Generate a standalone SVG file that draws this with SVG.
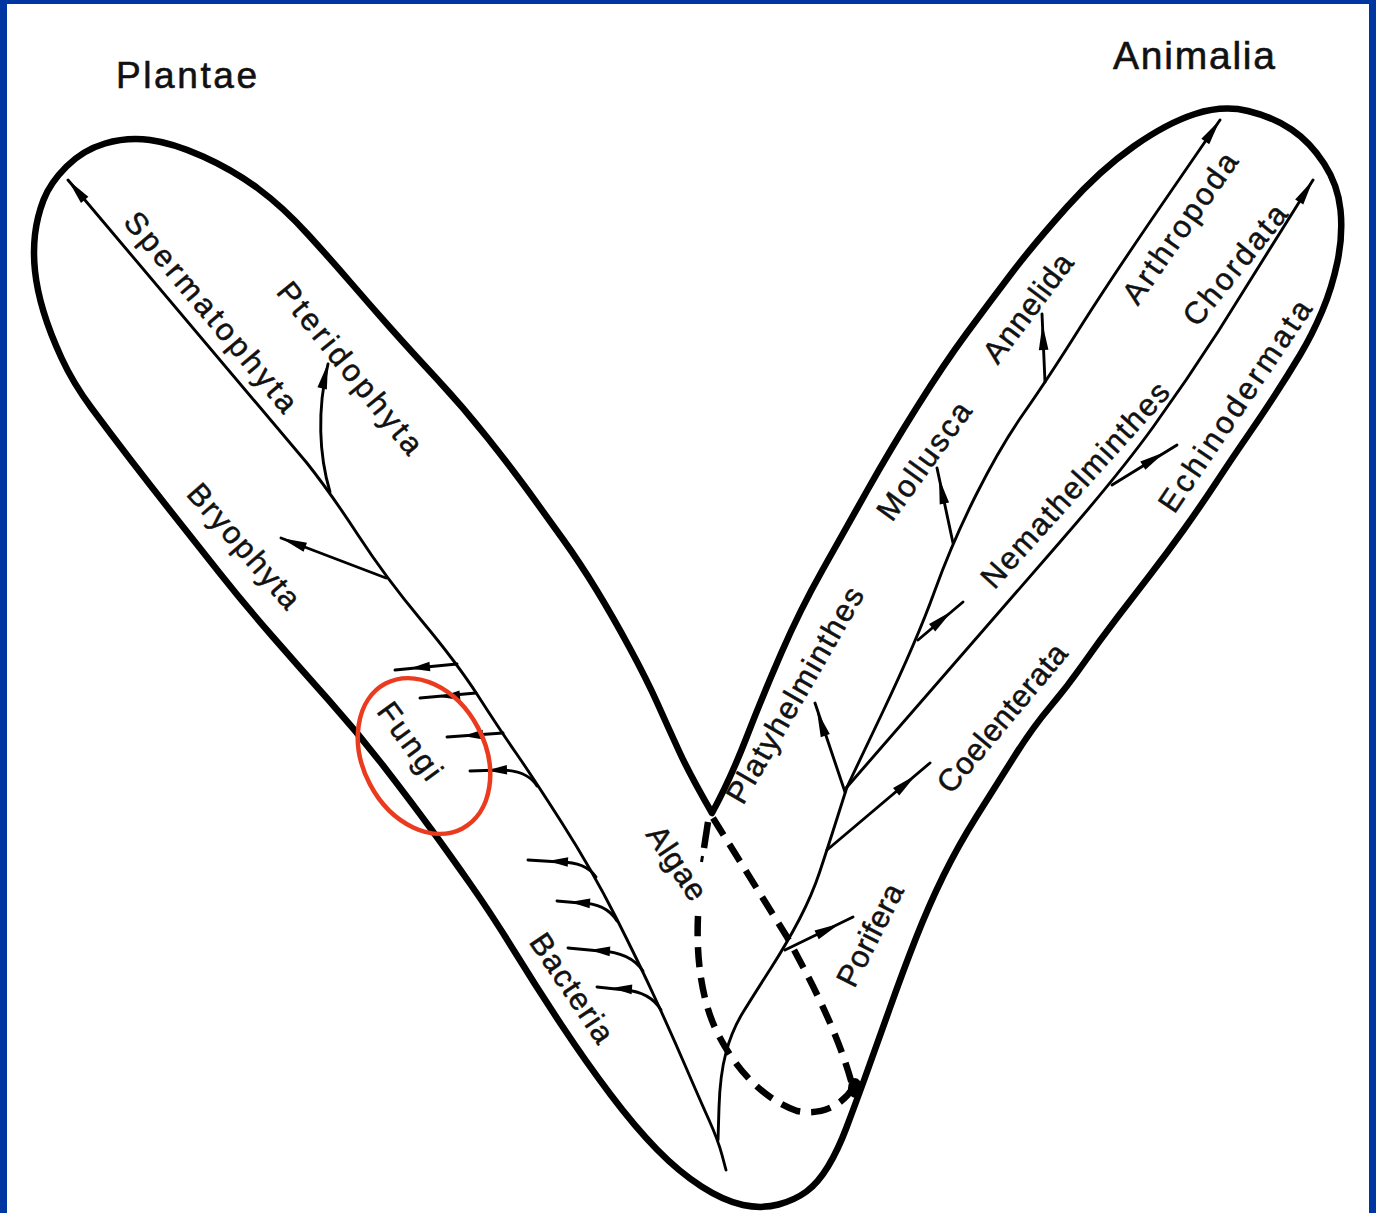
<svg xmlns="http://www.w3.org/2000/svg" width="1376" height="1213" viewBox="0 0 1376 1213">
<defs>
<style>
.ol{fill:none;stroke:#000;stroke-width:6.5;stroke-linejoin:round;stroke-linecap:round}
.br{fill:none;stroke:#000;stroke-width:2.9;stroke-linecap:round;stroke-linejoin:round}
.da{fill:none;stroke:#000;stroke-width:6.5;stroke-dasharray:20 11}
.lb{font-family:"Liberation Sans",Arial,sans-serif;font-size:31px;fill:#111;stroke:#111;stroke-width:0.5;text-anchor:middle;dominant-baseline:central}
.tt{font-family:"Liberation Sans",Arial,sans-serif;fill:#111;stroke:#111;stroke-width:0.6}
</style>
<path id="ah" d="M0,0 L-26,-4.8 L-26,4.8 Z" fill="#000"/>
<path id="as" d="M0,0 L-20,-4.8 L-20,4.8 Z" fill="#000"/>
</defs>
<rect width="1376" height="1213" fill="#0036a1"/>
<rect x="7" y="4" width="1362" height="1209" fill="#fff"/>

<g id="outline">
<path class="ol" d="M712,813 Q690,775 679,751 Q668,727 657.5,703.5 Q647,680 630,648.5 Q613,617 596.5,590 Q580,563 563.5,540 Q547,517 530,493.5 Q513,470 488,438.5 Q463,407 436.5,378.5 Q410,350 390,327.5 Q370,305 351.5,283.5 Q333,262 308,234.5 Q283,207 258,188.5 Q233,170 203,156.5 Q173,143 150,140 Q127,137 105,143.5 Q83,150 66.5,166.5 Q50,183 43.5,200 Q37,217 35,234.5 Q33,252 35,271 Q37,290 43.5,311.5 Q50,333 61.5,358 Q73,383 91.5,408 Q110,433 130,459 Q150,485 172.5,513.5 Q195,542 220,573.5 Q245,605 272.5,636.5 Q300,668 329,700.5 Q358,733 385,768 Q412,803 431,829 Q450,855 471,885 Q492,915 514.5,951.5 Q537,988 561.5,1025 Q586,1062 610.5,1094.5 Q635,1127 657,1149.5 Q679,1172 701.5,1186.5 Q724,1201 743,1205 Q762,1209 778.5,1204.5 Q795,1200 806.5,1191.5 Q818,1183 828,1166.5 Q838,1150 846.5,1127.5 Q855,1105 865,1077.5 Q875,1050 889,1010.5 Q903,971 916,938 Q929,905 943.5,875.5 Q958,846 976.5,816.5 Q995,787 1014,757 Q1033,727 1050,707 Q1067,687 1083.5,663.5 Q1100,640 1116.5,618.5 Q1133,597 1150,575 Q1167,553 1183.5,530 Q1200,507 1216.5,482 Q1233,457 1247.5,436 Q1262,415 1275,395 Q1288,375 1300,355 Q1312,335 1322,311.5 Q1332,288 1337.5,261.5 Q1343,235 1340.5,210 Q1338,185 1324,163.5 Q1310,142 1291.5,129.5 Q1273,117 1248,111 Q1223,105 1195,114 Q1167,123 1133.5,146.5 Q1100,170 1066.5,207.5 Q1033,245 1011,274 Q989,303 966.5,333.5 Q944,364 917,407 Q890,450 867.5,490 Q845,530 822.5,570 Q800,610 781.5,652.5 Q763,695 746.5,737.5 Q730,780 712,813 Z"/>
</g>

<g id="connectors">
<!-- plant trunk -->
<path class="br" d="M68,180 L306.5,462.5 Q330,492 358,535 Q386,578 421.5,620.5 Q457,663 478.5,696.5 Q500,730 516,753 Q532,776 562,823 Q592,870 615.5,916.5 Q639,963 655.5,999 Q672,1035 686,1067.5 Q700,1100 709,1120 Q718,1140 722,1155 L726,1170"/>
<use href="#ah" transform="translate(68,180) rotate(-130)"/>
<!-- Pteridophyta -->
<path class="br" d="M330,492 C319,455 317,410 328,364"/>
<use href="#ah" transform="translate(328,363) rotate(-77)"/>
<!-- Bryophyta -->
<path class="br" d="M386,578 L281,538"/>
<use href="#ah" transform="translate(281,538) rotate(201)"/>
<!-- Fungi -->
<path class="br" d="M457,664 L395,670"/>
<use href="#as" transform="translate(410,668.5) rotate(174.5)"/>
<path class="br" d="M476,693 L420,698"/>
<use href="#as" transform="translate(440,697) rotate(175)"/>
<path class="br" d="M503,733 L447,737"/>
<use href="#as" transform="translate(463,736) rotate(176)"/>
<path class="br" d="M537,786 Q527,770 500,770 L470,771"/>
<use href="#as" transform="translate(487,770.5) rotate(178)"/>
<!-- Bacteria -->
<path class="br" d="M596,877 Q586,862 560,862 L528,860"/>
<use href="#as" transform="translate(548,861) rotate(183)"/>
<path class="br" d="M617,921 Q606,903 580,903 L557,901"/>
<use href="#as" transform="translate(570,902) rotate(184)"/>
<path class="br" d="M643,971 Q630,952 600,951 L568,948"/>
<use href="#as" transform="translate(590,950) rotate(184)"/>
<path class="br" d="M661,1010 Q650,992 625,990 L597,987"/>
<use href="#as" transform="translate(612,988) rotate(184)"/>

<!-- animal trunk -->
<path class="br" d="M718,1140 L719,1107.5 Q720,1075 726,1052.5 Q732,1030 743.5,1011.5 Q755,993 771,968 Q787,943 799.5,919 Q812,895 819.5,872.5 Q827,850 837,818.5 L847,787"/>
<!-- line 1 (Arthropoda) -->
<path class="br" d="M847,787 L882,713.5 Q917,640 934.5,591.5 Q952,543 976,495 Q1000,447 1023.5,413.5 Q1047,380 1078.5,330 Q1110,280 1165,200 L1220,120"/>
<use href="#ah" transform="translate(1220,120) rotate(-55.5)"/>
<!-- line 2 (Chordata) -->
<path class="br" d="M847,787 L1060,542 Q1120,473 1153.5,426.5 Q1187,380 1218.5,331 L1313,180"/>
<use href="#ah" transform="translate(1313,180) rotate(-58)"/>
<!-- Platyhelminthes -->
<path class="br" d="M845,792 L815,703"/>
<use href="#ah" transform="translate(817,711) rotate(-108.6)"/>
<!-- Coelenterata -->
<path class="br" d="M827,850 L930,763"/>
<use href="#ah" transform="translate(916,775) rotate(-40.2)"/>
<!-- Porifera -->
<path class="br" d="M785,950 L853,917"/>
<use href="#ah" transform="translate(840,923.5) rotate(-25.9)"/>
<!-- Mollusca -->
<path class="br" d="M953,543 L937,468"/>
<use href="#ah" transform="translate(939,478) rotate(-102)"/>
<!-- Annelida -->
<path class="br" d="M1045,382 L1042,314"/>
<use href="#ah" transform="translate(1042.5,324) rotate(-92.5)"/>
<!-- Nemathelminthes -->
<path class="br" d="M918,640 L963,602"/>
<use href="#ah" transform="translate(952,611) rotate(-40.2)"/>
<!-- Echinodermata -->
<path class="br" d="M1112,485 L1177,445"/>
<use href="#ah" transform="translate(1165,452) rotate(-31.6)"/>

<!-- Algae dashed loop -->
<path class="da" d="M713,818 L787,937 C805,970 838,1030 853,1088"/>
<path d="M708,822 L704,848" fill="none" stroke="#000" stroke-width="6.5"/>
<path d="M702.5,856 L701.5,862" fill="none" stroke="#000" stroke-width="3"/>
<path class="da" d="M698,916 C696,960 702,1000 716,1030 C735,1070 765,1100 797,1111 C822,1116 842,1105 853,1088"/>
<ellipse cx="855" cy="1088" rx="7" ry="10" fill="#000"/>
</g>

<g id="fungi-highlight">
<ellipse cx="424" cy="756" rx="61" ry="82" transform="rotate(-28 424 756)" fill="none" stroke="#ea3b1f" stroke-width="4.5"/>
</g>

<g id="plantae"><text class="tt" x="116" y="88" font-size="37" textLength="141">Plantae</text></g>
<g id="animalia"><text class="tt" x="1113" y="69" font-size="39" textLength="162">Animalia</text></g>

<g id="spermatophyta"><text class="lb" transform="translate(211,312) rotate(50)" textLength="251">Spermatophyta</text></g>
<g id="pteridophyta"><text class="lb" transform="translate(350,368) rotate(51)" textLength="212">Pteridophyta</text></g>
<g id="bryophyta"><text class="lb" transform="translate(244,546) rotate(49)" textLength="155">Bryophyta</text></g>
<g id="fungi"><text class="lb" transform="translate(410,741) rotate(54)" textLength="88">Fungi</text></g>
<g id="bacteria"><text class="lb" transform="translate(572,988) rotate(56)" textLength="125">Bacteria</text></g>
<g id="algae"><text class="lb" transform="translate(677,863) rotate(56)" textLength="83">Algae</text></g>
<g id="platyhelminthes"><text class="lb" transform="translate(795,695) rotate(-60)" textLength="244">Platyhelminthes</text></g>
<g id="porifera"><text class="lb" transform="translate(870,935) rotate(-63)" textLength="111">Porifera</text></g>
<g id="coelenterata"><text class="lb" transform="translate(1002,718) rotate(-50)" textLength="184">Coelenterata</text></g>
<g id="mollusca"><text class="lb" transform="translate(924,461) rotate(-54)" textLength="138">Mollusca</text></g>
<g id="annelida"><text class="lb" transform="translate(1028,308) rotate(-53)" textLength="128">Annelida</text></g>
<g id="arthropoda"><text class="lb" transform="translate(1180,228) rotate(-55)" textLength="177">Arthropoda</text></g>
<g id="chordata"><text class="lb" transform="translate(1235,265) rotate(-51)" textLength="146">Chordata</text></g>
<g id="nemathelminthes"><text class="lb" transform="translate(1075,485) rotate(-48)" textLength="265">Nemathelminthes</text></g>
<g id="echinodermata"><text class="lb" transform="translate(1235,406) rotate(-56)" textLength="248">Echinodermata</text></g>
</svg>
